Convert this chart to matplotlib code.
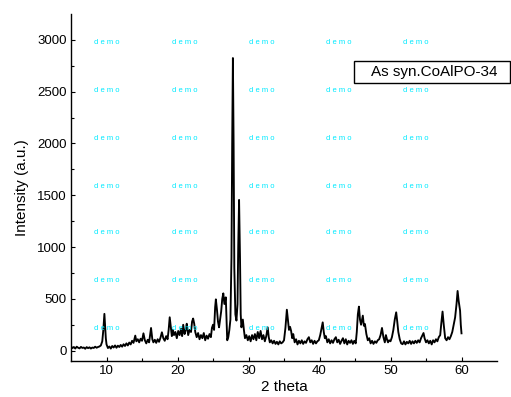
import matplotlib
matplotlib.use("Agg")
from matplotlib import pyplot as plt, rcParams
from matplotlib.patches import Rectangle
import numpy as np

rcParams.update({
    'font.family': ['Liberation Sans', 'DejaVu Sans'],
    'font.size': 10,
    'axes.labelsize': 11,
    'xtick.labelsize': 9.5,
    'ytick.labelsize': 9.5,
})

# XRD pattern, as-synthesised CoAlPO-34
two_theta = [
    5.0, 5.2, 5.4, 5.6, 5.8, 6.0, 6.2, 6.4, 6.6, 6.8, 7.0, 7.2, 7.4, 7.6, 7.8,
    8.0, 8.2, 8.4, 8.6, 8.8, 9.0, 9.2, 9.4, 9.55, 9.7, 9.8, 9.9, 10.0, 10.2,
    10.4, 10.6, 10.8, 11.0, 11.2, 11.4, 11.6, 11.8, 12.0, 12.2, 12.4, 12.6,
    12.8, 13.0, 13.2, 13.4, 13.6, 13.8, 14.05, 14.2, 14.4, 14.6, 14.8, 15.0,
    15.2, 15.4, 15.6, 15.8, 16.0, 16.1, 16.27, 16.45, 16.6, 16.8, 17.0, 17.2,
    17.4, 17.6, 17.8, 18.0, 18.2, 18.4, 18.6, 18.75, 18.9, 19.05, 19.2, 19.35,
    19.5, 19.7, 19.9, 20.1, 20.3, 20.5, 20.65, 20.8, 21.0, 21.15, 21.3, 21.5,
    21.7, 21.9, 22.05, 22.2, 22.35, 22.5, 22.7, 22.9, 23.1, 23.3, 23.5, 23.7,
    23.9, 24.1, 24.3, 24.5, 24.7, 24.85, 25.0, 25.15, 25.3, 25.4, 25.55, 25.7,
    25.85, 26.0, 26.15, 26.3, 26.45, 26.6, 26.8, 26.9, 27.0, 27.15, 27.3,
    27.45, 27.6, 27.7, 27.8, 27.9, 28.0, 28.15, 28.3, 28.45, 28.55, 28.67,
    28.8, 28.9, 29.0, 29.2, 29.35, 29.5, 29.7, 29.9, 30.1, 30.3, 30.5, 30.7,
    30.9, 31.1, 31.3, 31.5, 31.7, 31.9, 32.1, 32.3, 32.5, 32.7, 32.85, 33.0,
    33.2, 33.4, 33.6, 33.8, 34.0, 34.2, 34.4, 34.6, 34.8, 35.0, 35.2, 35.4,
    35.55, 35.7, 35.85, 36.0, 36.15, 36.3, 36.5, 36.7, 36.9, 37.1, 37.3, 37.5,
    37.7, 37.9, 38.1, 38.3, 38.5, 38.7, 38.9, 39.1, 39.3, 39.5, 39.7, 39.9,
    40.1, 40.3, 40.45, 40.6, 40.75, 40.9, 41.1, 41.3, 41.5, 41.7, 41.9, 42.1,
    42.3, 42.5, 42.7, 42.9, 43.1, 43.3, 43.5, 43.7, 43.9, 44.1, 44.3, 44.5,
    44.7, 44.9, 45.1, 45.25, 45.4, 45.55, 45.7, 45.85, 46.0, 46.1, 46.25,
    46.4, 46.6, 46.8, 47.0, 47.2, 47.4, 47.6, 47.8, 48.0, 48.2, 48.4, 48.6,
    48.8, 49.0, 49.2, 49.35, 49.5, 49.65, 49.8, 50.0, 50.2, 50.4, 50.6, 50.8,
    50.95, 51.1, 51.3, 51.5, 51.7, 51.9, 52.1, 52.3, 52.5, 52.7, 52.9, 53.1,
    53.3, 53.5, 53.7, 53.9, 54.1, 54.3, 54.5, 54.65, 54.8, 55.0, 55.2, 55.4,
    55.6, 55.8, 56.0, 56.2, 56.4, 56.6, 56.8, 57.0, 57.15, 57.33, 57.5, 57.7,
    57.9, 58.1, 58.3, 58.5, 58.7, 58.9, 59.1, 59.3, 59.45, 59.6, 59.8, 59.9,
    60.0,
]
intensity = [
    40, 25, 35, 20, 38, 28, 22, 36, 26, 30, 18, 34, 24, 32, 20,
    30, 26, 38, 28, 35, 40, 50, 90, 200, 355, 240, 120, 60, 25,
    40, 20, 45, 30, 50, 28, 48, 35, 55, 38, 62, 45,
    70, 50, 78, 60, 95, 75, 145, 90, 110, 80, 115, 95,
    167, 100, 70, 105, 80, 130, 219, 110, 80, 105, 75, 110,
    85, 125, 177, 120, 95, 140, 110, 200, 322, 230, 140, 200,
    150, 180, 120, 190, 150, 210, 140, 250, 160, 200, 260, 150,
    200, 180, 280, 310, 260, 180, 130, 170, 110, 150, 120, 170,
    100, 145, 115, 160, 130, 220, 250, 200, 420, 495, 400, 280,
    225, 300, 380, 500, 553, 450, 515, 300, 100, 130, 200,
    300, 900, 2000, 2825, 2000, 800, 350, 290, 450, 1000, 1455,
    900, 350, 225, 300, 200, 120, 150, 100, 140, 90, 150, 110,
    160, 100, 180, 120, 190, 110, 150, 90, 140, 225, 130, 80,
    100, 70, 95, 65, 85, 60, 90, 70, 80, 100, 220, 395,
    300, 200, 230, 190, 120, 160, 80, 110, 60, 95, 70, 100,
    65, 90, 75, 110, 130, 80, 100, 65, 95, 70, 90, 100,
    150, 220, 273, 180, 120, 140, 80, 110, 70, 100, 75, 110,
    130, 80, 105, 65, 95, 120, 70, 110, 60, 95, 75, 100,
    65, 95, 70, 180, 350, 425, 300, 250, 300, 338, 240,
    257, 160, 100, 120, 70, 95, 65, 90, 75, 100, 110, 150,
    219, 130, 80, 150, 110, 80, 100, 90, 130, 200, 300, 370,
    280, 180, 110, 70, 62, 90, 60, 85, 70, 95, 65, 90,
    70, 95, 75, 100, 80, 120, 150, 170, 120, 80, 100, 70,
    95, 60, 100, 80, 110, 90, 130, 150, 260, 377, 250, 120,
    100, 130, 110, 140, 180, 250, 320, 450, 576, 480, 386, 250,
    167,
]

x_ticks = [10, 20, 30, 40, 50, 60]
y_ticks = [0, 500, 1000, 1500, 2000, 2500, 3000]

fig = plt.figure(figsize=(5.11, 3.97), dpi=100)
ax = fig.add_axes([0.139, 0.0907, 0.8336, 0.874])

ax.plot(two_theta, intensity, color='black', linewidth=1.35)

ax.set_xlim(5, 65)
ax.set_ylim(-100, 3250)
ax.set_xticks(x_ticks)
ax.set_yticks(y_ticks)
ax.set_xticks(np.arange(15, 65, 10), minor=True)
ax.set_yticks(np.arange(250, 3250, 500), minor=True)
ax.tick_params(which='major', direction='in', length=3, width=0.8, pad=3)
ax.tick_params(which='minor', direction='in', length=2, width=0.8)
for side in ['top', 'right']:
    ax.spines[side].set_visible(False)
ax.spines['left'].set_linewidth(1.0)
ax.spines['bottom'].set_linewidth(1.0)

ax.set_xlabel('2 theta', labelpad=2)
ax.set_ylabel('Intensity (a.u.)', labelpad=6)

# watermark grid
for cx in [107, 185, 262, 339, 416]:
    for cy in [43, 90, 138, 186, 233, 281, 329]:
        fig.text(cx / 511, 1 - cy / 397, 'd e m o', color='#00eaff',
                 fontsize=5.5, ha='center', va='center', zorder=0)

# sample label box
fig.patches.append(Rectangle((354 / 511, 1 - 83 / 397), 156 / 511, 22 / 397,
                             transform=fig.transFigure, facecolor='white',
                             edgecolor='black', linewidth=1.0))
fig.text(434 / 511, 1 - 72 / 397, 'As syn.CoAlPO-34', fontsize=11,
         ha='center', va='center')

fig.savefig('out.png', dpi=100)
